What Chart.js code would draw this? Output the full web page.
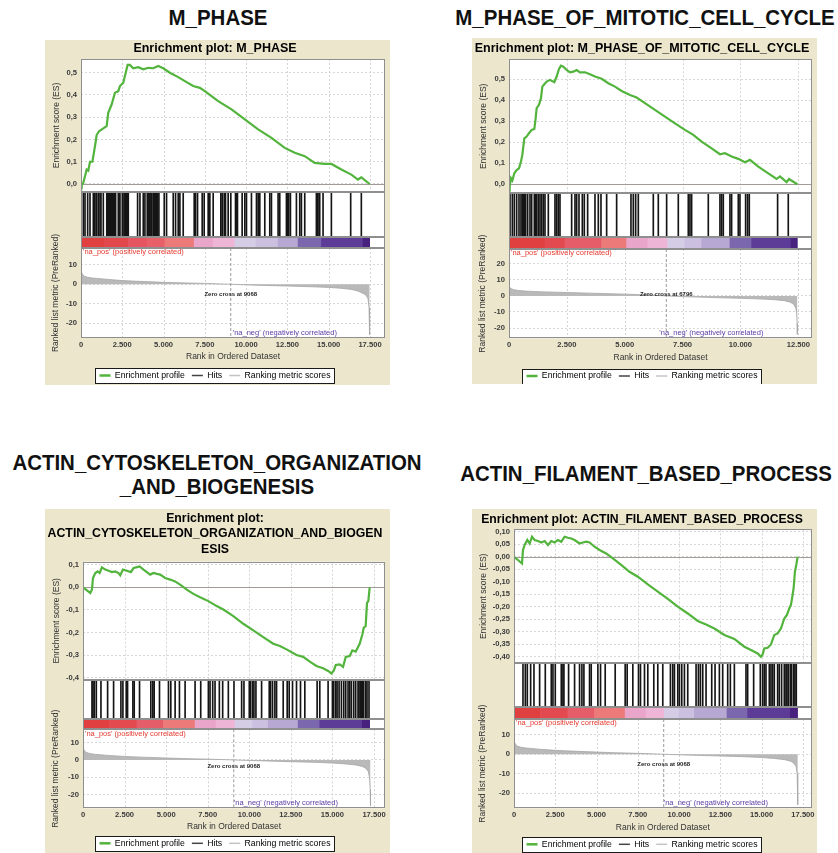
<!DOCTYPE html>
<html>
<head>
<meta charset="utf-8">
<title>GSEA enrichment plots</title>
<script src="https://cdn.jsdelivr.net/npm/chart.js@4.4.1/dist/chart.umd.min.js"></script>
<style>
  html, body { margin: 0; padding: 0; background: #ffffff; }
  body { position: relative; width: 838px; height: 853px; overflow: hidden; font-family: "Liberation Sans", Arial, sans-serif; }
  .head { position: absolute; font-weight: bold; font-size: 22px; line-height: 24px; white-space: nowrap; text-align: center; color: #111; transform: translate(-50%, -50%) scaleX(0.93); }
  .panel { position: absolute; background: #ebe6cc; }
  .panel canvas { display: block; }
</style>
</head>
<body>
<div class="head" style="left:217.5px; top:18px">M_PHASE</div>
<div class="head" style="left:645px; top:18px">M_PHASE_OF_MITOTIC_CELL_CYCLE</div>
<div class="head" style="left:217px; top:475px">ACTIN_CYTOSKELETON_ORGANIZATION<br>_AND_BIOGENESIS</div>
<div class="head" style="left:645.5px; top:474px">ACTIN_FILAMENT_BASED_PROCESS</div>

<div class="panel" style="left:45px; top:40px; width:345px; height:345px"><canvas id="p1" width="345" height="345"></canvas></div>
<div class="panel" style="left:472px; top:38px; width:345px; height:346px"><canvas id="p2" width="345" height="346"></canvas></div>
<div class="panel" style="left:45px; top:509px; width:345px; height:344px"><canvas id="p3" width="345" height="344"></canvas></div>
<div class="panel" style="left:472px; top:509px; width:345px; height:344px"><canvas id="p4" width="345" height="344"></canvas></div>

<script>
// ---------- rank axis ticks ----------
const rankTicksLong = [0, 2500, 5000, 7500, 10000, 12500, 15000, 17500];
const rankTicksShort = [0, 2500, 5000, 7500, 10000, 12500];

// ---------- M_PHASE ----------
const mPhaseEsRank = [0, 40, 140, 240, 343, 440, 545, 690, 847, 948, 1090, 1351, 1553, 1650, 1855, 2057, 2258, 2359, 2560, 2661, 2823, 2960, 3165, 3470, 3770, 4073, 4375, 4677, 4980, 5383, 5887, 6290, 6794, 7197, 7500, 8306, 9113, 9919, 10725, 11532, 12338, 12943, 13548, 14152, 14757, 15161, 15766, 16370, 16773, 16975, 17480];
const mPhaseEsScore = [0, -0.006, 0.005, 0.035, 0.065, 0.06, 0.10, 0.10, 0.17, 0.22, 0.237, 0.25, 0.26, 0.32, 0.357, 0.41, 0.417, 0.44, 0.455, 0.485, 0.535, 0.535, 0.52, 0.525, 0.515, 0.522, 0.52, 0.53, 0.52, 0.50, 0.48, 0.462, 0.44, 0.432, 0.417, 0.372, 0.335, 0.29, 0.245, 0.207, 0.162, 0.14, 0.125, 0.095, 0.09, 0.09, 0.065, 0.042, 0.02, 0.03, 0];
const mPhaseHits = [141, 242, 403, 545, 746, 807, 847, 948, 1049, 1150, 1210, 1351, 1560, 1613, 1650, 1694, 1740, 1795, 1850, 1895, 1960, 2016, 2097, 2258, 2300, 2359, 2500, 2600, 2661, 2700, 2762, 2800, 2863, 3427, 3569, 3770, 3871, 4012, 4060, 4113, 4170, 4234, 4290, 4375, 4450, 4516, 4580, 4637, 4718, 5040, 5181, 5585, 5726, 5887, 5988, 6189, 6855, 6900, 6936, 7056, 7339, 7459, 7701, 7802, 8004, 8467, 8548, 8669, 8750, 8911, 9072, 9355, 9400, 9475, 9758, 9919, 10020, 10322, 10625, 10725, 10780, 10826, 11129, 11431, 11532, 11935, 12036, 12439, 12500, 12580, 12681, 13044, 13245, 13346, 13548, 14253, 14300, 14354, 14455, 14657, 15161, 16330, 16975];
const mPhaseMetricRank = [0, 30, 100, 200, 400, 700, 1000, 1500, 2500, 3500, 5000, 6000, 7500, 9068, 10500, 12500, 14000, 15000, 15800, 16400, 16800, 17050, 17250, 17380, 17440, 17470, 17480];
const mPhaseMetricValue = [7.5, 6.2, 5, 4.2, 3.6, 3.2, 3.0, 2.6, 1.9, 1.5, 1.0, 0.75, 0.45, 0, -0.45, -0.9, -1.3, -1.6, -2.1, -2.7, -3.6, -4.6, -5.5, -7.5, -12, -19, -26];
const mPhaseBandEdges = [0, 1400, 2863, 4000, 5080, 6855, 8000, 9315, 10600, 11935, 13145, 14556, 17076, 17480];
const mPhaseZeroCross = 9068;

// ---------- M_PHASE_OF_MITOTIC_CELL_CYCLE ----------
const mitoticEsRank = [0, 30, 86, 144, 230, 331, 432, 518, 576, 662, 763, 864, 979, 1094, 1152, 1195, 1296, 1382, 1440, 1526, 1627, 1771, 1958, 2059, 2160, 2246, 2347, 2491, 2635, 2779, 2923, 3067, 3283, 3499, 3715, 4003, 4291, 4579, 4867, 5227, 5515, 5875, 6307, 6739, 7171, 7603, 7963, 8323, 8755, 9115, 9331, 9619, 9907, 10195, 10411, 10771, 11203, 11563, 11707, 11995, 12096, 12460];
const mitoticEsScore = [0, -0.01, 0.029, 0.018, 0.052, 0.068, 0.076, 0.108, 0.14, 0.219, 0.227, 0.243, 0.259, 0.263, 0.314, 0.362, 0.378, 0.41, 0.465, 0.476, 0.489, 0.497, 0.486, 0.513, 0.549, 0.565, 0.56, 0.544, 0.533, 0.536, 0.544, 0.533, 0.533, 0.524, 0.513, 0.502, 0.481, 0.465, 0.444, 0.425, 0.413, 0.386, 0.354, 0.322, 0.29, 0.259, 0.235, 0.203, 0.171, 0.143, 0.148, 0.132, 0.121, 0.105, 0.116, 0.084, 0.052, 0.025, 0.037, 0.01, 0.025, 0];
const mitoticHits = [43, 144, 230, 331, 432, 518, 576, 619, 662, 720, 806, 907, 979, 1094, 1152, 1195, 1267, 1339, 1411, 1483, 1555, 1699, 1987, 2059, 2131, 2203, 2707, 2851, 2923, 3024, 3168, 3254, 3398, 3715, 3859, 3974, 4219, 4651, 5270, 5371, 5472, 5587, 6235, 6451, 6811, 7315, 7747, 7819, 7891, 8611, 9115, 9187, 9259, 9547, 9619, 9907, 9979, 10224, 10310, 10382, 11606, 12067];
const mitoticMetricRank = [0, 20, 80, 200, 400, 700, 1000, 1500, 2500, 3500, 5000, 6000, 6796, 7500, 8500, 10000, 11000, 11500, 11900, 12150, 12300, 12390, 12430, 12450, 12460];
const mitoticMetricValue = [7, 5.6, 4.6, 3.9, 3.4, 3.0, 2.8, 2.5, 2.1, 1.7, 1.1, 0.6, 0, -0.45, -0.9, -1.5, -2.0, -2.4, -3.0, -3.9, -5.2, -7.5, -11, -17, -24];
const mitoticBandEdges = [0, 1555, 2419, 4003, 5083, 6000, 6854, 7600, 8323, 9547, 10483, 12182, 12460];
const mitoticZeroCross = 6796;

// ---------- ACTIN_CYTOSKELETON_ORGANIZATION_AND_BIOGENESIS ----------
const cytoEsRank = [0, 440, 540, 600, 740, 880, 1000, 1140, 1340, 1540, 1740, 1940, 2140, 2240, 2400, 2640, 2880, 3040, 3200, 3400, 3640, 3840, 4040, 4240, 4440, 4640, 4940, 5240, 5540, 5840, 6240, 6640, 7040, 7540, 8040, 8440, 9040, 9640, 10240, 10840, 11440, 11840, 12240, 12840, 13240, 13640, 14040, 14440, 14740, 14940, 15080, 15200, 15440, 15640, 15800, 16040, 16200, 16400, 16540, 16640, 16800, 16880, 17000, 17080, 17160, 17240];
const cytoEsScore = [0, -0.025, -0.01, 0.041, 0.063, 0.07, 0.063, 0.088, 0.078, 0.073, 0.067, 0.07, 0.063, 0.053, 0.078, 0.073, 0.067, 0.085, 0.088, 0.092, 0.078, 0.067, 0.056, 0.063, 0.059, 0.056, 0.041, 0.034, 0.026, 0.012, -0.01, -0.029, -0.044, -0.061, -0.083, -0.098, -0.127, -0.161, -0.19, -0.22, -0.249, -0.259, -0.274, -0.299, -0.307, -0.328, -0.347, -0.357, -0.369, -0.38, -0.368, -0.343, -0.34, -0.351, -0.307, -0.303, -0.278, -0.284, -0.263, -0.249, -0.208, -0.179, -0.171, -0.069, -0.061, 0];
const cytoHits = [540, 600, 680, 800, 1080, 1480, 1840, 2280, 2400, 2600, 2680, 3000, 3080, 3400, 4080, 4200, 4280, 4600, 5140, 5280, 5540, 5800, 6140, 6740, 7080, 7540, 7640, 7800, 7940, 8200, 8400, 8740, 9080, 9540, 9680, 10000, 10080, 10200, 10280, 10400, 10740, 11200, 11280, 11400, 11540, 11640, 12040, 12280, 12400, 12600, 12840, 13080, 13340, 14080, 14240, 14740, 15000, 15080, 15200, 15280, 15400, 15540, 15680, 15800, 15940, 16040, 16140, 16280, 16400, 16540, 16600, 16680, 16740, 16800, 16880, 17000, 17080, 17200];
const cytoMetricRank = [0, 30, 100, 200, 400, 700, 1000, 1500, 2500, 3500, 5000, 6000, 7500, 9068, 10500, 12500, 14000, 15000, 15800, 16400, 16800, 17000, 17150, 17230, 17270, 17290];
const cytoMetricValue = [7.7, 6.3, 5.1, 4.3, 3.7, 3.2, 3.0, 2.6, 2.0, 1.6, 1.1, 0.8, 0.45, 0, -0.45, -1.0, -1.4, -1.8, -2.3, -2.9, -3.8, -4.8, -6.5, -10, -17, -26.5];
const cytoBandEdges = [0, 1600, 3240, 4840, 6740, 8000, 9140, 10200, 11140, 12940, 14240, 16800, 17240];
const cytoZeroCross = 9068;

// ---------- ACTIN_FILAMENT_BASED_PROCESS ----------
const filamentEsRank = [0, 242, 484, 545, 645, 806, 947, 1089, 1250, 1451, 1653, 1855, 2056, 2258, 2459, 2661, 2863, 3064, 3266, 3467, 3669, 3971, 4173, 4375, 4576, 4879, 5181, 5584, 5987, 6491, 6995, 7499, 8104, 8709, 9314, 9918, 10523, 11128, 11632, 12136, 12741, 13346, 13951, 14354, 14757, 14958, 15059, 15160, 15362, 15563, 15765, 15966, 16168, 16370, 16531, 16672, 16773, 16874, 16934, 17015, 17096, 17176];
const filamentEsScore = [0, -0.013, -0.027, 0.027, 0.047, 0.067, 0.053, 0.08, 0.067, 0.063, 0.057, 0.063, 0.047, 0.063, 0.057, 0.067, 0.06, 0.08, 0.076, 0.073, 0.067, 0.053, 0.057, 0.06, 0.057, 0.04, 0.027, 0.013, -0.007, -0.033, -0.06, -0.08, -0.111, -0.14, -0.169, -0.2, -0.227, -0.257, -0.271, -0.287, -0.313, -0.329, -0.36, -0.373, -0.387, -0.4, -0.391, -0.367, -0.364, -0.351, -0.313, -0.307, -0.287, -0.247, -0.233, -0.207, -0.193, -0.153, -0.127, -0.06, -0.033, 0];
const filamentHits = [544, 685, 806, 1008, 1209, 1552, 1895, 2258, 2359, 2500, 2863, 2963, 3024, 3306, 3669, 3971, 4113, 4234, 4576, 4677, 5080, 5241, 5524, 6129, 6733, 6854, 7197, 7540, 7661, 7903, 8104, 8467, 8709, 9011, 9475, 9616, 9717, 9919, 10019, 10161, 10322, 10523, 11027, 11169, 11289, 11431, 11632, 11975, 12177, 12439, 12640, 12943, 13104, 13346, 14051, 14152, 14515, 14918, 15059, 15160, 15261, 15463, 15563, 15664, 15765, 15967, 16067, 16208, 16370, 16471, 16531, 16612, 16733, 16813, 16934, 17015, 17096];
const filamentMetricRank = [0, 30, 100, 200, 400, 700, 1000, 1500, 2500, 3500, 5000, 6000, 7500, 9068, 10500, 12500, 14000, 15000, 15800, 16400, 16750, 16950, 17080, 17150, 17180, 17190];
const filamentMetricValue = [7.5, 6.1, 5, 4.2, 3.6, 3.2, 3.0, 2.6, 2.0, 1.6, 1.1, 0.8, 0.45, 0, -0.45, -0.9, -1.3, -1.7, -2.2, -2.8, -3.6, -4.6, -6.3, -10, -17, -26];
const filamentBandEdges = [0, 1600, 3266, 4879, 6733, 8000, 9112, 10000, 10927, 12903, 14152, 16733, 17176];
const filamentZeroCross = 9068;

// ---------- colours of the ranked-list band ----------
const BAND13 = ['#e0403f', '#e2474b', '#e45461', '#e65f69', '#ec7a78', '#eaa5ca', '#efb5d6', '#d5cce6', '#cbc0df', '#b7a7d3', '#7b67ad', '#5d3c98', '#48217f'];
const BAND12 = ['#e0403f', '#e34a50', '#e45d69', '#ec7a78', '#eaa5ca', '#efb5d6', '#d5cce6', '#cbc0df', '#b7a7d3', '#7b67ad', '#5d3c98', '#48217f'];

const GREEN = '#52b43c';
const SANS = '"Liberation Sans", Arial, sans-serif';
Chart.defaults.font.family = SANS;

const groupThousands = v => String(v).replace(/\B(?=(\d{3})+(?!\d))/g, '.');
const commaDecimal = digits => v => (Math.abs(v) < 1e-9 ? 0 : v).toFixed(digits).replace('.', ',');

// frames, white plot background, section grid, zero line and annotations
const gseaDecor = {
  id: 'gseaDecor',
  beforeDraw(chart, args, o) {
    const { ctx, chartArea: a, legend } = chart;
    ctx.save();
    ctx.fillStyle = '#ffffff';
    ctx.fillRect(a.left, a.top, a.width, a.height);
    const boxes = legend && legend.legendHitBoxes;
    if (boxes && boxes.length) {
      const first = boxes[0], last = boxes[boxes.length - 1];
      const cy = legend.top + o.legendPad + o.legendFont / 2;
      const x0 = Math.round(first.left - 5) + 0.5;
      const x1 = Math.round(last.left + last.width + 4) + 0.5;
      const y0 = Math.round(cy - 7.5) + 0.5;
      ctx.fillStyle = '#ffffff';
      ctx.fillRect(x0, y0, x1 - x0, 15);
      ctx.strokeStyle = '#1a1a1a';
      ctx.lineWidth = 1;
      ctx.strokeRect(x0, y0, x1 - x0, 15);
    }
    ctx.restore();
  },
  beforeDatasetsDraw(chart) {
    const { ctx, chartArea: a, scales } = chart;
    const x = scales.x;
    ctx.save();
    ctx.strokeStyle = '#d4d4d4';
    ctx.lineWidth = 1;
    ctx.setLineDash([2, 2]);
    for (const id of ['es', 'metric']) {
      const s = scales[id];
      for (const t of x.ticks) {
        const px = Math.round(x.getPixelForValue(t.value)) + 0.5;
        ctx.beginPath(); ctx.moveTo(px, s.top); ctx.lineTo(px, s.bottom); ctx.stroke();
      }
    }
    ctx.setLineDash([]);
    ctx.strokeStyle = '#a39b98';
    const y0 = Math.round(scales.es.getPixelForValue(0)) + 0.5;
    ctx.beginPath(); ctx.moveTo(a.left, y0); ctx.lineTo(a.right, y0); ctx.stroke();
    ctx.restore();
  },
  afterDatasetsDraw(chart, args, o) {
    const { ctx, chartArea: a, scales } = chart;
    const x = scales.x, m = scales.metric;
    ctx.save();
    ctx.strokeStyle = '#8f8f8f';
    ctx.lineWidth = 1;
    for (const id of ['es', 'hits', 'band', 'metric']) {
      const s = scales[id];
      const L = Math.round(a.left) + 0.5, R = Math.round(a.right) - 0.5;
      const T = Math.round(s.top) + 0.5, B = Math.round(s.bottom) - 0.5;
      ctx.strokeRect(L, T, R - L, B - T);
    }
    const zx = x.getPixelForValue(o.zeroCross);
    ctx.textBaseline = 'middle';
    ctx.font = '7.5px ' + SANS;
    ctx.textAlign = 'left';
    ctx.fillStyle = '#e5392f';
    ctx.fillText("'na_pos' (positively correlated)", a.left + 2, m.top + 4.3);
    ctx.fillStyle = '#5b3da6';
    ctx.fillText("'na_neg' (negatively correlated)", zx + o.negDx, m.bottom - 5);
    ctx.font = 'bold 6px ' + SANS;
    ctx.textAlign = 'center';
    ctx.fillStyle = '#1f1f1f';
    ctx.fillText('Zero cross at ' + o.zeroCross, zx, m.getPixelForValue(o.zeroLabelY));
    ctx.restore();
  }
};

const panels = [
  { id: 'p1', title: 'Enrichment plot: M_PHASE', titleSize: 12.5, titleLH: 1.2, titlePad: { top: 1, bottom: 3 },
    axisW: 36, padRight: 5, sections: [133, 45, 11, 90], xAxisH: 26.15, legendH: 20.85, xMax: 18408, xTicks: rankTicksLong,
    xLabelPad: 2.6, xTitlePad: 2.05, esMin: -0.036, esMax: 0.5615, esStep: 0.1, esDigits: 1,
    metricMin: -27.7, metricMax: 18.7, zeroLabelY: -5, negDx: 2,
    esRank: mPhaseEsRank, esScore: mPhaseEsScore, hits: mPhaseHits, metricRank: mPhaseMetricRank,
    metricValue: mPhaseMetricValue, bandEdges: mPhaseBandEdges, bandColors: BAND13, zeroCross: mPhaseZeroCross },
  { id: 'p2', title: 'Enrichment plot: M_PHASE_OF_MITOTIC_CELL_CYCLE', titleSize: 12.5, titleLH: 1.2, titlePad: { top: 2.8, bottom: 3.5 },
    axisW: 37, padRight: 5, sections: [134, 44, 11.7, 89.3], xAxisH: 26.35, legendH: 19.35, xMax: 13092, xTicks: rankTicksShort,
    xLabelPad: 2.3, xTitlePad: 2.25, esMin: -0.043, esMax: 0.595, esStep: 0.1, esDigits: 1,
    metricMin: -26.4, metricMax: 29.2, zeroLabelY: 1, negDx: -7,
    esRank: mitoticEsRank, esScore: mitoticEsScore, hits: mitoticHits, metricRank: mitoticMetricRank,
    metricValue: mitoticMetricValue, bandEdges: mitoticBandEdges, bandColors: BAND12, zeroCross: mitoticZeroCross },
  { id: 'p3', title: ['Enrichment plot:', 'ACTIN_CYTOSKELETON_ORGANIZATION_AND_BIOGEN', 'ESIS'], titleSize: 12.3, titleLH: 1.28, titlePad: { top: 1.4, bottom: 4.05 },
    axisW: 38, padRight: 5, sections: [118.3, 39, 10.3, 79], xAxisH: 23.65, legendH: 21.05, xMax: 18162, xTicks: rankTicksLong,
    xLabelPad: 2.3, xTitlePad: 0, esMin: -0.409, esMax: 0.113, esStep: 0.1, esDigits: 1,
    metricMin: -27.8, metricMax: 17.6, zeroLabelY: -3.8, negDx: 0,
    esRank: cytoEsRank, esScore: cytoEsScore, hits: cytoHits, metricRank: cytoMetricRank,
    metricValue: cytoMetricValue, bandEdges: cytoBandEdges, bandColors: BAND12, zeroCross: cytoZeroCross },
  { id: 'p4', title: 'Enrichment plot: ACTIN_FILAMENT_BASED_PROCESS', titleSize: 12.2, titleLH: 1.2, titlePad: { top: 3.5, bottom: 2.2 },
    axisW: 42, padRight: 5, sections: [134, 44, 11.7, 89.3], xAxisH: 24.65, legendH: 20.05, xMax: 18026, xTicks: rankTicksLong,
    xLabelPad: 2.3, xTitlePad: 0.55, esMin: -0.4264, esMax: 0.1096, esStep: 0.05, esDigits: 2,
    metricMin: -27.8, metricMax: 18.1, zeroLabelY: -5.1, negDx: 0,
    esRank: filamentEsRank, esScore: filamentEsScore, hits: filamentHits, metricRank: filamentMetricRank,
    metricValue: filamentMetricValue, bandEdges: filamentBandEdges, bandColors: BAND12, zeroCross: filamentZeroCross }
];

const LEGEND_FONT = 8.7, LEGEND_PAD = 7;
const tickFont = { size: 7.6, weight: 'bold' };
const axisTitleFont = { size: 8.5 };

function buildPanel(p) {
  const esPoints = p.esRank.map((r, i) => ({ x: r, y: p.esScore[i] }));
  const metricPoints = p.metricRank.map((r, i) => ({ x: r, y: p.metricValue[i] }));
  const hitBars = p.hits.map(r => ({ x: r, y: [0, 1] }));
  const bandBars = p.bandEdges.slice(0, -1).map((e, i) => ({ x: [e, p.bandEdges[i + 1]], y: 'band' }));
  const fixWidth = s => { s.width = p.axisW; };
  const hiddenAxis = (weight, stackWeight) => ({
    position: 'left', stack: 'gsea', weight, stackWeight, afterFit: fixWidth,
    ticks: { display: false }, grid: { display: false, drawTicks: false }, border: { display: false }
  });

  new Chart(document.getElementById(p.id), {
    type: 'line',
    data: {
      datasets: [
        { type: 'line', label: 'Enrichment profile', data: esPoints, xAxisID: 'x', yAxisID: 'es',
          borderColor: GREEN, borderWidth: 2.2, pointRadius: 0, tension: 0, fill: false },
        { type: 'bar', label: 'Hits', data: hitBars, xAxisID: 'x', yAxisID: 'hits',
          backgroundColor: '#151515', grouped: false, barThickness: 1, maxBarThickness: 1 },
        { type: 'bar', label: 'band', data: bandBars, indexAxis: 'y', xAxisID: 'x', yAxisID: 'band',
          backgroundColor: p.bandColors, borderWidth: 0, categoryPercentage: 1, barPercentage: 1 },
        { type: 'line', label: 'zero cross', data: [{ x: p.zeroCross, y: p.metricMax }, { x: p.zeroCross, y: p.metricMin }],
          xAxisID: 'x', yAxisID: 'metric', borderColor: '#9a9a9a', borderWidth: 1, borderDash: [3, 2], pointRadius: 0, fill: false },
        { type: 'line', label: 'Ranking metric scores', data: metricPoints, xAxisID: 'x', yAxisID: 'metric',
          borderColor: '#a6a6a6', borderWidth: 0.8, backgroundColor: '#b9b9b9', pointRadius: 0, tension: 0, fill: 'origin' }
      ]
    },
    options: {
      responsive: false,
      animation: false,
      events: [],
      layout: { padding: { left: 0, right: p.padRight, top: 0, bottom: 0 } },
      scales: {
        x: {
          type: 'linear', position: 'bottom', min: 0, max: p.xMax, offset: false,
          afterBuildTicks: s => { s.ticks = p.xTicks.map(v => ({ value: v })); },
          afterFit: s => { s.height = p.xAxisH; },
          grid: { display: false, drawTicks: false }, border: { display: false },
          ticks: { autoSkip: false, maxRotation: 0, padding: p.xLabelPad, font: tickFont, color: '#3a3a3a',
                   callback: v => groupThousands(v) },
          title: { display: true, text: 'Rank in Ordered Dataset', font: axisTitleFont, color: '#333',
                   padding: { top: 0, bottom: p.xTitlePad } }
        },
        es: {
          type: 'linear', position: 'left', stack: 'gsea', weight: 4, stackWeight: p.sections[0],
          min: p.esMin, max: p.esMax, afterFit: fixWidth,
          grid: { color: '#d8d8d8', drawTicks: false }, border: { display: false, dash: [2, 2] },
          ticks: { stepSize: p.esStep, includeBounds: false, maxTicksLimit: 40, autoSkip: false, padding: 4,
                   font: tickFont, color: '#3a3a3a', callback: commaDecimal(p.esDigits) },
          title: { display: true, text: 'Enrichment score (ES)', font: axisTitleFont, color: '#333', padding: { top: 7, bottom: 0 } }
        },
        hits: Object.assign(hiddenAxis(3, p.sections[1]), { type: 'linear', min: 0, max: 1 }),
        band: Object.assign(hiddenAxis(2, p.sections[2]), { type: 'category', labels: ['band'], offset: true }),
        metric: {
          type: 'linear', position: 'left', stack: 'gsea', weight: 1, stackWeight: p.sections[3],
          min: p.metricMin, max: p.metricMax, afterFit: fixWidth,
          grid: { color: '#d8d8d8', drawTicks: false }, border: { display: false, dash: [2, 2] },
          ticks: { stepSize: 10, includeBounds: false, maxTicksLimit: 40, autoSkip: false, padding: 4,
                   font: tickFont, color: '#3a3a3a', callback: v => String(v) },
          title: { display: true, text: 'Ranked list metric (PreRanked)', font: axisTitleFont, color: '#333', padding: { top: 6, bottom: 0 } }
        }
      },
      plugins: {
        title: { display: true, text: p.title, color: '#000',
                 font: { size: p.titleSize, weight: 'bold', lineHeight: p.titleLH }, padding: p.titlePad },
        legend: {
          position: 'bottom', maxHeight: p.legendH,
          labels: {
            usePointStyle: true, pointStyleWidth: 11, padding: LEGEND_PAD, color: '#1e1e1e',
            font: { size: LEGEND_FONT },
            generateLabels: () => [
              { text: 'Enrichment profile', strokeStyle: GREEN, fillStyle: GREEN, lineWidth: 2.5, pointStyle: 'line', hidden: false },
              { text: 'Hits', strokeStyle: '#444', fillStyle: '#444', lineWidth: 1.5, pointStyle: 'line', hidden: false },
              { text: 'Ranking metric scores', strokeStyle: '#c4c4c4', fillStyle: '#c4c4c4', lineWidth: 1.5, pointStyle: 'line', hidden: false }
            ]
          }
        },
        tooltip: { enabled: false },
        gseaDecor: { zeroCross: p.zeroCross, zeroLabelY: p.zeroLabelY, negDx: p.negDx, legendPad: LEGEND_PAD, legendFont: LEGEND_FONT }
      }
    },
    plugins: [gseaDecor]
  });
}

panels.forEach(buildPanel);
</script>
</body>
</html>
